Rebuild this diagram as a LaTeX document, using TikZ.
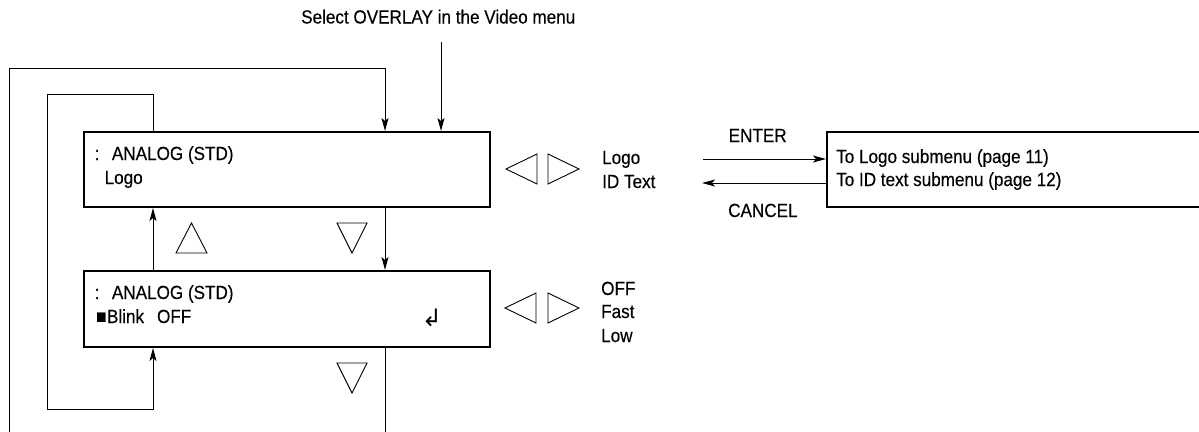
\documentclass[tikz,border=0pt]{standalone}
\usepackage{fontspec}
\setmainfont{Liberation Sans}[FakeStretch=0.9,FakeBold=0.3]
\newfontfamily\symfont{DejaVu Sans}
\usetikzlibrary{arrows.meta}
\begin{document}
\begin{tikzpicture}[x=1pt,y=-1pt,
  txt/.style={inner sep=0pt,anchor=base west,font=\fontsize{19}{22}\selectfont},
  menubox/.style={draw,line width=2pt,inner sep=0pt},
  conn/.style={line width=1pt},
  arr/.style={line width=1pt,-{Stealth[length=13pt,width=7pt,inset=3pt]}},
  tri/.style={line width=0.9pt,line join=miter}]
\useasboundingbox (0,0) rectangle (1199,431);

% boxes
\node[menubox,minimum width=406pt,minimum height=75pt] (box1) at (287,169.5) {};
\node[menubox,minimum width=406pt,minimum height=76pt] (box2) at (287,309) {};
\node[menubox,minimum width=390pt,minimum height=75pt,anchor=north west] (rbox) at (826,131) {};

% box texts
\node[txt] (b1l1) at (94.5,160) {:\hspace{12.5pt}ANALOG (STD)};
\node[txt] (b1l2) at (104.5,184) {Logo};
\node[txt] (b2l1) at (94.5,299) {:\hspace{12.5pt}ANALOG (STD)};
\node[txt] (b2l2) at (96,323) {■\hspace{0.5pt}Blink\hspace{13pt}OFF};
\node[inner sep=0pt,font=\symfont\fontsize{24}{24}\selectfont] (ret) at (432,318) {↲};
\node[txt] (r1) at (836,163) {To Logo submenu (page 11)};
\node[txt] (r2) at (836,186) {To ID text submenu (page 12)};

% option lists
\node[txt] (o1a) at (602,164) {Logo};
\node[txt] (o1b) at (602,188) {ID Text};
\node[txt] (o2a) at (601,295) {OFF};
\node[txt] (o2b) at (601,318) {Fast};
\node[txt] (o2c) at (601,342) {Low};

% labels
\node[txt] (sel) at (301,23.5) {Select OVERLAY in the Video menu};
\node[txt] (enter) at (728.5,142) {ENTER};
\node[txt] (cancel) at (728,217) {CANCEL};

% coordinates
\coordinate (selbot) at (441,42);
\coordinate (outb) at (9,440);
\coordinate (outt) at (385,68);
\coordinate (il) at (47,94);
\coordinate (ib) at (153,409);
\coordinate (botend) at (385,440);
\coordinate (e1) at (703,159);
\coordinate (c1) at (702,183);

% connectors
\draw[arr] (selbot) -- (selbot |- box1.north);
\draw[arr] (outb) |- (outt) -- (outt |- box1.north);
\draw[arr] (box1.north -| ib) |- (il) |- (ib) -- (ib |- box2.south);
\draw[arr] (box2.north -| ib) -- (box1.south -| ib);
\draw[arr] (box1.south -| outt) -- (box2.north -| outt);
\draw[conn] (box2.south -| outt) -- (botend);
\draw[arr] (e1) -- (e1 -| rbox.west);
\draw[arr] (c1 -| rbox.west) -- (c1);

% triangles
\draw[tri] (506,169) -- (537,154) -- (537,184) -- cycle;
\draw[tri] (579,169) -- (548,154) -- (548,184) -- cycle;
\draw[tri] (505,308) -- (536,293) -- (536,323) -- cycle;
\draw[tri] (579,308) -- (548,293) -- (548,323) -- cycle;
\draw[tri] (191.5,223) -- (176,253) -- (207,253) -- cycle;
\draw[tri] (352,253) -- (337,223) -- (367,223) -- cycle;
\draw[tri] (352,393) -- (337,363) -- (367,363) -- cycle;
\end{tikzpicture}
\end{document}
